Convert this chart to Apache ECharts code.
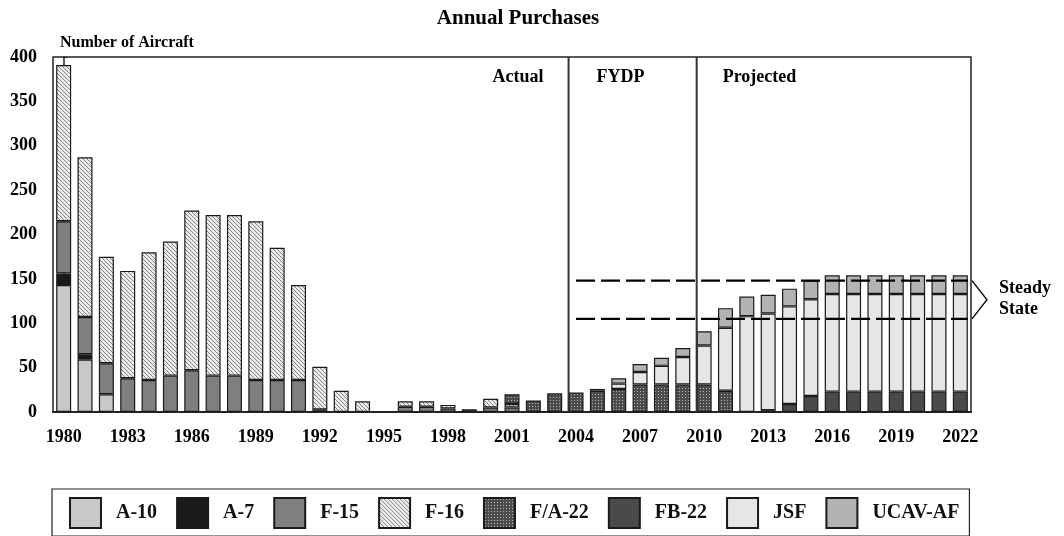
<!DOCTYPE html>
<html><head><meta charset="utf-8">
<script src="https://cdn.jsdelivr.net/npm/echarts@6/dist/echarts.min.js"></script>
<style>html,body{margin:0;padding:0;background:#fff}#c{width:1064px;height:536px}</style>
</head><body><div id="c"></div>
<script>
const years = ['1980','1981','1982','1983','1984','1985','1986','1987','1988','1989',
  '1990','1991','1992','1993','1994','1995','1996','1997','1998','1999',
  '2000','2001','2002','2003','2004','2005','2006','2007','2008','2009',
  '2010','2011','2012','2013','2014','2015','2016','2017','2018','2019',
  '2020','2021','2022'];
const seriesNames = ['A-10','A-7','F-15','F-16','F/A-22','FB-22','JSF','UCAV-AF'];
const a10 = [143,59,20,0,0,0,0,0,0,0, 0,0,0,0,0,0,0,0,0,0, 0,0,0,0,0,0,0,0,0,0, 0,0,0,0,0,0,0,0,0,0, 0,0,0];
const a7  = [13,6,0,0,0,0,0,0,0,0, 0,0,0,0,0,0,0,0,0,0, 0,0,0,0,0,0,0,0,0,0, 0,0,0,0,0,0,0,0,0,0, 0,0,0];
const f15 = [59,42,35,38,36,41,47,41,41,36, 36,36,3,0,0,0,6,6,4,3, 5,5,0,0,0,0,0,0,0,0, 0,0,0,0,0,0,0,0,0,0, 0,0,0];
const f16 = [176,180,120,121,144,151,180,181,181,179, 149,107,48,24,12,0,6,6,4,0, 10,4,0,0,0,0,0,0,0,0, 0,0,0,0,0,0,0,0,0,0, 0,0,0];
const fa22 = [0,0,0,0,0,0,0,0,0,0, 0,0,0,0,0,0,0,0,0,0, 0,11,13,21,22,24,26,31,31,31, 31,24,0,0,0,0,0,0,0,0, 0,0,0];
const fb22 = [0,0,0,0,0,0,0,0,0,0, 0,0,0,0,0,0,0,0,0,0, 0,0,0,0,0,0,0,0,0,0, 0,0,0,2,9,18,23,23,23,23, 23,23,23];
const jsf  = [0,0,0,0,0,0,0,0,0,0, 0,0,0,0,0,0,0,0,0,0, 0,0,0,0,0,2,6,14,21,31, 44,71,108,109,110,109,110,110,110,110, 110,110,110];
const ucav = [0,0,0,0,0,0,0,0,0,0, 0,0,0,0,0,0,0,0,0,0, 0,0,0,0,0,0,6,9,9,10, 16,22,22,21,20,21,21,21,21,21, 21,21,21];
const yTicks = [0,50,100,150,200,250,300,350,400];
// annotation positions (category index units)
const phaseBounds = [23.65, 29.65];
const phaseLabels = ['Actual','FYDP','Projected'];
const steadyLevels = [148, 105];
const steadyRange = [24, 42.35];

const FONT = '"Liberation Serif","Times New Roman",serif';

function hatch(){
  const c = document.createElement('canvas'); c.width = 4; c.height = 4;
  const g = c.getContext('2d');
  g.fillStyle = '#ececec'; g.fillRect(0,0,4,4);
  g.fillStyle = '#858585';
  for (let i=0;i<4;i++) g.fillRect(i,i,1,1);
  return {image:c, repeat:'repeat'};
}
function dots(){
  const c = document.createElement('canvas'); c.width = 3; c.height = 3;
  const g = c.getContext('2d');
  g.fillStyle = '#4c4c4c'; g.fillRect(0,0,3,3);
  g.fillStyle = '#b4b4b4'; g.fillRect(1,1,1,1);
  return {image:c, repeat:'repeat'};
}
const colors = ['#c8c8c8','#1a1a1a','#7f7f7f',hatch(),dots(),'#4a4a4a','#e6e6e6','#b3b3b3'];
const values = [a10,a7,f15,f16,fa22,fb22,jsf,ucav];

const barSeries = seriesNames.map((n,i)=>({
  name:n, type:'bar', stack:'total', barWidth:15,
  data: values[i].map(v => v === 0 ? '-' : v),
  itemStyle:{color:colors[i], borderColor:'#1a1a1a', borderWidth:1.2},
  emphasis:{disabled:true}
}));

const annot = [];
phaseBounds.forEach(x=>annot.push({type:'line', xAxisIndex:1, yAxisIndex:0, data:[[x,0],[x,400]],
  symbol:'none', silent:true, lineStyle:{color:'#333', width:2}, z:5}));
steadyLevels.forEach(y=>annot.push({type:'line', xAxisIndex:1, yAxisIndex:0, data:[[steadyRange[0],y],[steadyRange[1],y]],
  symbol:'none', silent:true, lineStyle:{color:'#000', width:2.2, type:[19,6]}, z:6}));

const option = {
  animation:false,
  backgroundColor:'#fff',
  grid:{left:53, right:93, top:57, bottom:124, show:true, borderColor:'#222', borderWidth:1.5, containLabel:false},
  xAxis:[{
    type:'category', data:years,
    axisLine:{lineStyle:{color:'#222', width:2}},
    axisTick:{show:false},
    axisLabel:{interval:2, color:'#000', fontFamily:FONT, fontWeight:'bold', fontSize:18, margin:16}
  },{
    type:'value', min:-0.5, max:42.5, show:false
  }],
  yAxis:{
    type:'value', min:0, max:400, interval:50,
    axisLine:{show:true, lineStyle:{color:'#222', width:1.5}},
    axisTick:{show:true, inside:true, length:4, lineStyle:{color:'#222'}},
    splitLine:{show:false},
    axisLabel:{color:'#000', fontFamily:FONT, fontWeight:'bold', fontSize:18, margin:16,
      formatter:v => yTicks.includes(v) ? String(v) : ''}
  },
  legend:{
    data:seriesNames, left:52, top:489, orient:'horizontal',
    padding:[8,10,7,17], itemGap:19, itemWidth:31, itemHeight:30, icon:'rect',
    borderColor:'#222', borderWidth:1.2,
    textStyle:{fontFamily:FONT, fontWeight:'bold', fontSize:20, color:'#111', padding:[0,0,0,10]},
    selectedMode:false
  },
  series: barSeries.concat(annot)
};

const chart = echarts.init(document.getElementById('c'), null, {renderer:'canvas'});
chart.setOption(option);

function px(x,y){ return chart.convertToPixel({xAxisIndex:1, yAxisIndex:0}, [x,y]); }
const b1 = px(phaseBounds[0], 400), b2 = px(phaseBounds[1], 400);
const gl = px(-0.5, 0), gr = px(42.5, 0);
const bTop = px(42.5, steadyLevels[0]), bBot = px(42.5, steadyLevels[1]);
const tip = px(43.25, (steadyLevels[0]+steadyLevels[1])/2);
const topY = b1[1];
const tstyle = {fontFamily:FONT, fontWeight:'bold', fontSize:18, fill:'#000'};
chart.setOption({graphic:[
  {type:'text', x:(gl[0]+gr[0])/2 + 6, y:19, style:Object.assign({}, tstyle, {text:'Annual Purchases', fontSize:21, textAlign:'center', textVerticalAlign:'middle'})},
  {type:'text', x:60, y:43, style:Object.assign({}, tstyle, {text:'Number of Aircraft', fontSize:16, textAlign:'left', textVerticalAlign:'middle'})},
  {type:'text', x:b1[0]-25, y:topY+20, style:Object.assign({}, tstyle, {text:phaseLabels[0], textAlign:'right', textVerticalAlign:'middle'})},
  {type:'text', x:b1[0]+28, y:topY+20, style:Object.assign({}, tstyle, {text:phaseLabels[1], textAlign:'left', textVerticalAlign:'middle'})},
  {type:'text', x:b2[0]+26, y:topY+20, style:Object.assign({}, tstyle, {text:phaseLabels[2], textAlign:'left', textVerticalAlign:'middle'})},
  {type:'polyline', shape:{points:[[bTop[0]+1,bTop[1]],[tip[0],tip[1]],[bBot[0]+1,bBot[1]]]},
    style:{stroke:'#000', lineWidth:1.3, fill:null}, z:10},
  {type:'text', x:tip[0]+12, y:tip[1]-11, style:Object.assign({}, tstyle, {text:'Steady', textAlign:'left', textVerticalAlign:'middle'})},
  {type:'text', x:tip[0]+12, y:tip[1]+10, style:Object.assign({}, tstyle, {text:'State', textAlign:'left', textVerticalAlign:'middle'})}
]});
</script></body></html>
